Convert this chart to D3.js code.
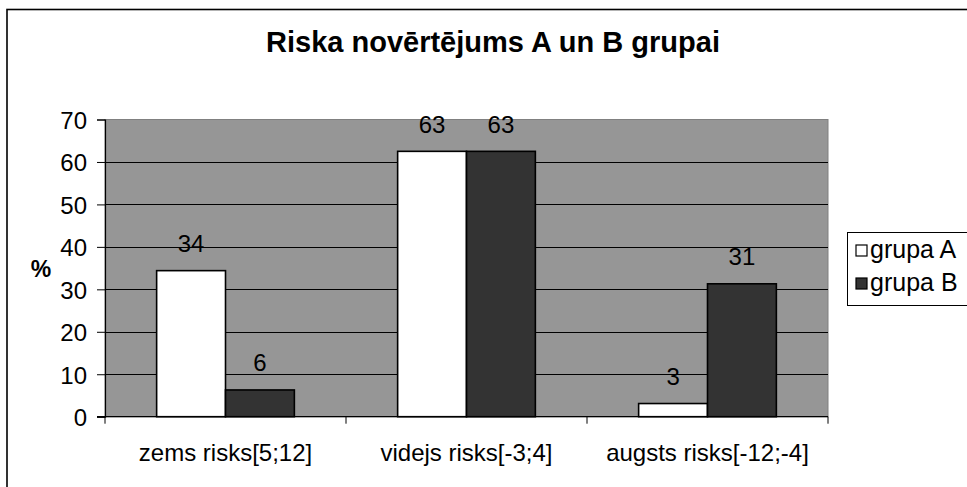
<!DOCTYPE html>
<html><head><meta charset="utf-8">
<script src="https://cdn.jsdelivr.net/npm/d3@7"></script>
<style>html,body{margin:0;padding:0;background:#fff;}svg{display:block;}</style>
</head><body>
<script>
const title = "Riska novērtējums A un B grupai";
const categories = ["zems risks[5;12]", "videjs risks[-3;4]", "augsts risks[-12;-4]"];
const seriesNames = ["grupa A", "grupa B"];
const grupaA = [34.4, 62.5, 3.1];
const grupaB = [6.3, 62.5, 31.3];
const valueLabelsA = ["34", "63", "3"];
const valueLabelsB = ["6", "63", "31"];
const yTicks = [0, 10, 20, 30, 40, 50, 60, 70];
const yLabel = "%";

const W = 967, H = 487;
const plot = {left: 105, right: 828, top: 119.5, bottom: 416.7};
const colors = ["#ffffff", "#333333"];
const FONT = "'Liberation Sans', Arial, sans-serif";
const FS = 24;

const svg = d3.select("body").append("svg").attr("width", W).attr("height", H);
svg.append("rect").attr("width", W).attr("height", H).attr("fill", "#fff");

// outer chart border
svg.append("rect").attr("x", 7).attr("y", 9.5).attr("width", 1000).attr("height", 520)
  .attr("fill", "none").attr("stroke", "#000").attr("stroke-width", 1.6);

const y = d3.scaleLinear().domain([0, 70]).range([plot.bottom, plot.top]);
const x0 = d3.scaleBand().domain(categories).range([plot.left, plot.right]).padding(0);
const bw = x0.bandwidth();
const gap = bw * 1.5 / 3.5;
const x1 = d3.scaleBand().domain(seriesNames).range([gap / 2, bw - gap / 2]).padding(0);

function txt(g, x, yy, s, opts = {}) {
  return g.append("text")
    .attr("x", x).attr("y", yy)
    .attr("text-anchor", opts.anchor || "middle")
    .attr("font-family", FONT)
    .attr("font-size", opts.fs || FS)
    .attr("font-weight", opts.bold ? "bold" : "normal")
    .attr("fill", "#000")
    .text(s);
}

// plot area
svg.append("rect").attr("x", plot.left).attr("y", plot.top)
  .attr("width", plot.right - plot.left).attr("height", plot.bottom - plot.top)
  .attr("fill", "#969696").attr("stroke", "#808080").attr("stroke-width", 1);

// gridlines
svg.append("g").selectAll("line").data(yTicks.filter(d => d > 0 && d < 70)).join("line")
  .attr("x1", plot.left).attr("x2", plot.right)
  .attr("y1", d => Math.round(y(d)) + 0.5).attr("y2", d => Math.round(y(d)) + 0.5)
  .attr("stroke", "#000").attr("stroke-width", 1);

// bars
const rows = categories.map((c, i) => ({c, vals: [grupaA[i], grupaB[i]], labs: [valueLabelsA[i], valueLabelsB[i]]}));
const gCat = svg.append("g").selectAll("g").data(rows).join("g")
  .attr("transform", d => `translate(${x0(d.c)},0)`);
gCat.selectAll("rect").data(d => d.vals.map((v, j) => ({s: seriesNames[j], v, j}))).join("rect")
  .attr("x", d => x1(d.s)).attr("width", x1.bandwidth())
  .attr("y", d => y(d.v)).attr("height", d => y(0) - y(d.v))
  .attr("fill", d => colors[d.j]).attr("stroke", "#000").attr("stroke-width", 1.6);

// value labels
rows.forEach(r => {
  r.vals.forEach((v, j) => {
    txt(svg, x0(r.c) + x1(seriesNames[j]) + x1.bandwidth() / 2, y(v) - 18.5, r.labs[j]);
  });
});

// y axis
const yAxis = d3.axisLeft(y).tickValues(yTicks).tickSize(8).tickFormat("");
const gy = svg.append("g").attr("transform", `translate(${plot.left},0)`).call(yAxis);
gy.select(".domain").attr("stroke", "#000").attr("stroke-width", 1.2);
gy.selectAll(".tick line").attr("stroke", "#000");
yTicks.forEach(t => txt(svg, 87, y(t) + 9.5, String(t), {anchor: "end"}));

// x axis
const xAxis = d3.axisBottom(x0).tickSize(0).tickFormat("");
const gx = svg.append("g").attr("transform", `translate(0,${plot.bottom})`).call(xAxis);
gx.select(".domain").attr("stroke", "#000").attr("stroke-width", 1.2).attr("d", `M${plot.left - 8},0H${plot.right}`);
const edges = categories.map(c => x0(c)).concat([plot.right]);
gx.selectAll("line.edge").data(edges).join("line").attr("class", "edge")
  .attr("x1", d => d).attr("x2", d => d).attr("y1", 0).attr("y2", 7).attr("stroke", "#000");
categories.forEach(c => txt(svg, x0(c) + bw / 2, 461, c));

// y label
txt(svg, 41, 277, yLabel, {bold: true, fs: 23});

// title
txt(svg, 493, 52, title, {bold: true, fs: 29});

// legend
const lg = svg.append("g");
lg.append("rect").attr("x", 847.5).attr("y", 232.5).attr("width", 140).attr("height", 73)
  .attr("fill", "#fff").attr("stroke", "#000").attr("stroke-width", 1);
seriesNames.forEach((s, i) => {
  const yy = 245 + i * 33;
  lg.append("rect").attr("x", 856).attr("y", yy).attr("width", 11).attr("height", 11)
    .attr("fill", colors[i]).attr("stroke", "#000").attr("stroke-width", 1.2);
  txt(lg, 870, yy + 12.5, s, {anchor: "start", fs: 25});
});
</script>
</body></html>
